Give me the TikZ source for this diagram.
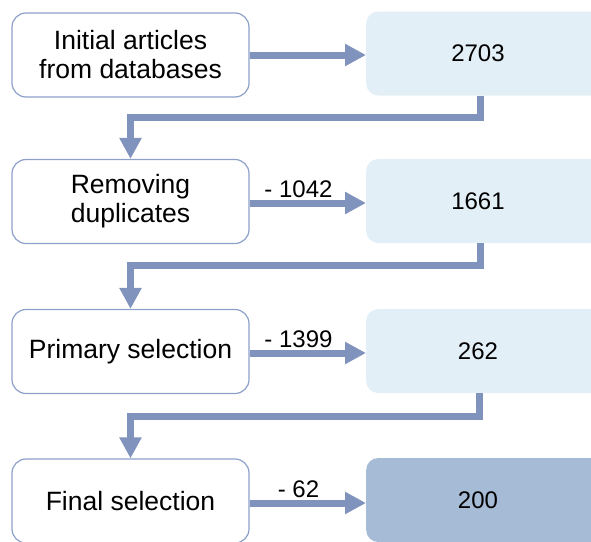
\documentclass[tikz,border=0pt]{standalone}
\usepackage{fontspec}
\setmainfont{Liberation Sans}
\usetikzlibrary{arrows.meta}
\definecolor{arrowc}{HTML}{7F93BD}
\definecolor{boxline}{HTML}{8DA0C9}
\definecolor{lightfill}{HTML}{E3EFF6}
\definecolor{darkfill}{HTML}{A6BBD5}
\begin{document}
\begin{tikzpicture}[x=1pt,y=-1pt,
  stepbox/.style={draw=boxline,line width=1.2pt,fill=white,rounded corners=14pt,
    minimum width=237pt,minimum height=84pt,align=center,inner sep=0pt,
    font=\fontsize{26.5}{29}\selectfont},
  countbox/.style={draw=none,fill=lightfill,rounded corners=12pt,
    minimum width=240pt,minimum height=84pt,inner sep=0pt,anchor=west},
  numtext/.style={font=\fontsize{24}{28}\selectfont},
  flow/.style={draw=arrowc,line width=7pt,
    -{Triangle[length=21pt,width=21pt]}},
  lbl/.style={font=\fontsize{24}{28}\selectfont,inner sep=1pt,anchor=south}
]
\clip (0,0) rectangle (591,541);
% left boxes
\node[stepbox] (s1) at (130.5,55) {Initial articles\\from databases};
\node[stepbox] (s2) at (130.5,201.5) {Removing\\duplicates};
\node[stepbox] (s3) at (130.5,351.5) {Primary selection};
\node[stepbox] (s4) at (130.5,501) {Final selection};
% right boxes
\node[countbox] (c1) at (366,53.5) {};
\node[countbox] (c2) at (366,201) {};
\node[countbox] (c3) at (366,351) {};
\node[countbox,fill=darkfill] (c4) at (366,500) {};
\node[numtext] (t1) at (478,53.5) {2703};
\node[numtext] (t2) at (478,201) {1661};
\node[numtext] (t3) at (478,351) {262};
\node[numtext] (t4) at (478,500) {200};
% horizontal arrows
\draw[flow] (s1.east |- 0,55) -- (c1.west |- 0,55);
\draw[flow] (s2.east |- 0,203) -- (c2.west |- 0,203) node[lbl,pos=0.42,yshift=1pt] {- 1042};
\draw[flow] (s3.east |- 0,353) -- (c3.west |- 0,353) node[lbl,pos=0.42,yshift=1pt] {- 1399};
\draw[flow] (s4.east |- 0,503) -- (c4.west |- 0,503) node[lbl,pos=0.42,yshift=1pt] {- 62};
% elbow connectors
\draw[flow] (480,0 |- c1.south) -- (480,117.5) -- (s2.north |- 0,117.5) -- (s2.north);
\draw[flow] (480,0 |- c2.south) -- (480,265) -- (s3.north |- 0,265) -- (s3.north);
\draw[flow] (479,0 |- c3.south) -- (479,416) -- (s4.north |- 0,416) -- (s4.north);
\end{tikzpicture}
\end{document}
